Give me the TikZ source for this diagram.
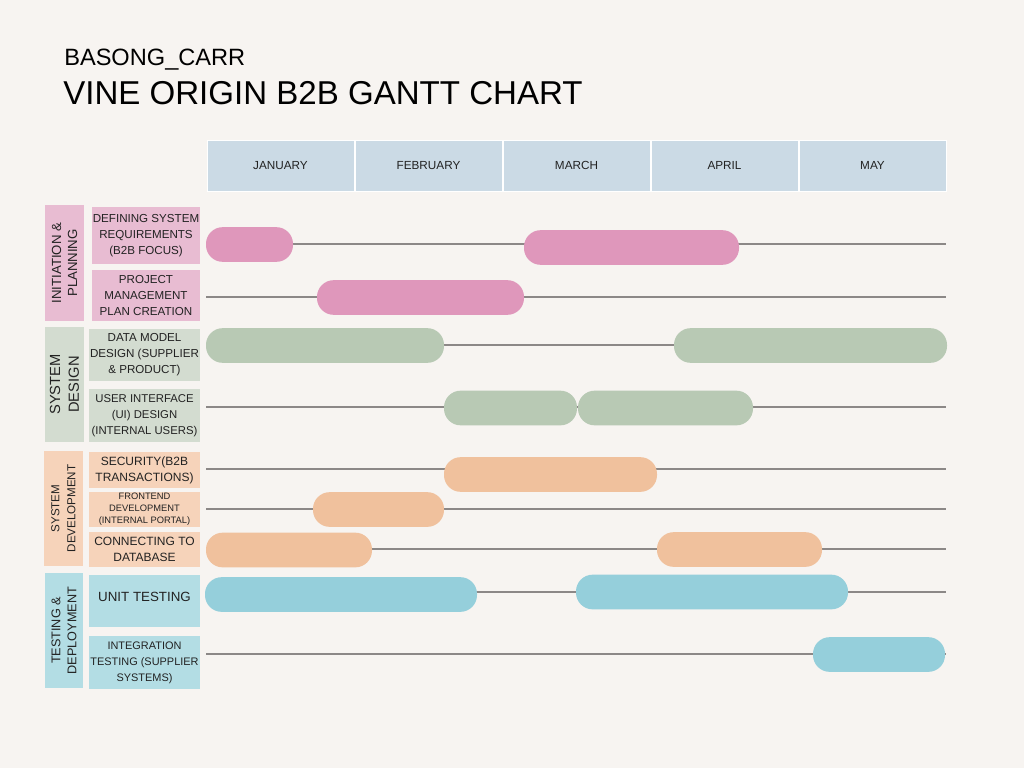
\documentclass[tikz,border=0pt]{standalone}
\usepackage{fontspec}
\setmainfont{Liberation Sans}
\definecolor{bg}{HTML}{F7F4F1}
\definecolor{hdr}{HTML}{CBDAE5}
\definecolor{pinkbar}{HTML}{DF97BB}
\definecolor{pinkbox}{HTML}{E8BCD2}
\definecolor{greenbar}{HTML}{B8C9B4}
\definecolor{greenbox}{HTML}{D3DCD0}
\definecolor{orangebar}{HTML}{F0C19D}
\definecolor{orangebox}{HTML}{F6D3BA}
\definecolor{bluebar}{HTML}{95CFDB}
\definecolor{bluebox}{HTML}{B3DDE4}
\definecolor{rowline}{HTML}{8C8887}
\definecolor{txt}{HTML}{222222}
\newcommand{\fsz}[2]{\fontsize{#1}{#2}\selectfont}
\tikzset{
  lbl/.style={text=txt, inner sep=0pt},
  monthcell/.style={lbl, fill=hdr, draw=white, line width=0.75pt, minimum width=110.25pt, minimum height=38.25pt, font=\fsz{8.8}{11}},
  catbox/.style={lbl, fill=#1, rotate=90, align=center, minimum height=29pt},
  taskbox/.style={lbl, fill=#1, align=center},
  ganttbar/.style={fill=#1, rounded corners=12.5pt, inner sep=0pt, minimum height=26pt},
  rowrule/.style={draw=rowline, line width=0.9pt},
}
\begin{document}
\begin{tikzpicture}[x=0.75pt,y=-0.75pt]
\useasboundingbox (0,0) rectangle (1024,768);
\fill[bg] (0,0) rectangle (1024,768);

% titles
\node[lbl, text=black, anchor=base west, font=\fsz{17.7}{20}] (sub) at (64,65) {BASONG\_CARR};
\node[lbl, text=black, anchor=base west, font=\fsz{24.8}{28}] (title) at (63,104) {VINE ORIGIN B2B GANTT CHART};

% month header
\node[monthcell] (jan) at (280.5,165.5) {JANUARY};
\node[monthcell] (feb) at (428.5,165.5) {FEBRUARY};
\node[monthcell] (mar) at (576.5,165.5) {MARCH};
\node[monthcell] (apr) at (724.5,165.5) {APRIL};
\node[monthcell] (may) at (872.5,165.5) {MAY};

% category boxes
\node[catbox=pinkbox, minimum width=87pt, font=\fsz{9.9}{12}] (cat1) at (64.5,263) {INITIATION \&\\PLANNING};
\node[catbox=greenbox, minimum width=86.25pt, font=\fsz{11}{14}] (cat2) at (64.5,384.5) {SYSTEM\\DESIGN};
\node[catbox=orangebox, minimum width=86.25pt, font=\fsz{8.7}{12}] (cat3) at (63.5,508.5) {SYSTEM\\DEVELOPMENT};
\node[catbox=bluebox, minimum width=86.25pt, font=\fsz{9.5}{12}] (cat4) at (64,630.5) {TESTING \&\\DEPLOYMENT};

% task boxes
\node[taskbox=pinkbox, minimum width=81pt, minimum height=42.75pt, font=\fsz{8.7}{12}] (t1) at (146,235.5) {DEFINING SYSTEM\\REQUIREMENTS\\(B2B FOCUS)};
\node[taskbox=pinkbox, minimum width=81pt, minimum height=38.25pt, font=\fsz{8.7}{12}] (t2) at (146,295.5) {PROJECT\\MANAGEMENT\\PLAN CREATION};
\node[taskbox=greenbox, minimum width=83.25pt, minimum height=39pt, font=\fsz{8.7}{12}] (t3) at (144.5,355) {DATA MODEL\\DESIGN (SUPPLIER\\\& PRODUCT)};
\node[taskbox=greenbox, minimum width=83.25pt, minimum height=39.75pt, font=\fsz{8.5}{12}] (t4) at (144.5,415.5) {USER INTERFACE\\(UI) DESIGN\\(INTERNAL USERS)};
\node[taskbox=orangebox, minimum width=83.25pt, minimum height=27pt, font=\fsz{9}{12}] (t5) at (144.5,470) {SECURITY(B2B\\TRANSACTIONS)};
\node[taskbox=orangebox, minimum width=83.25pt, minimum height=26.25pt, font=\fsz{7}{9}] (t6) at (144.5,509.5) {FRONTEND\\DEVELOPMENT\\(INTERNAL PORTAL)};
\node[taskbox=orangebox, minimum width=83.25pt, minimum height=26.25pt, font=\fsz{9}{12}] (t7) at (144.5,549.5) {CONNECTING TO\\DATABASE};
\node[taskbox=bluebox, minimum width=83.25pt, minimum height=39pt] (t8) at (144.5,601) {};
\node[lbl, font=\fsz{10}{12}] (t8txt) at (t8.center) [yshift=3pt] {UNIT TESTING};
\node[taskbox=bluebox, minimum width=83.25pt, minimum height=39.75pt, font=\fsz{8.2}{12}] (t9) at (144.5,662.5) {INTEGRATION\\TESTING (SUPPLIER\\SYSTEMS)};

% row rules
\foreach \i/\y in {1/244,2/297,3/345,4/407,5/469,6/509,7/549,8/592,9/654}{
  \coordinate (rs\i) at (206,\y);
  \coordinate (re\i) at (946,\y);
  \draw[rowrule] (rs\i) -- (re\i);
}

% bars
\node[ganttbar=pinkbar, minimum width=65.25pt] (b1a) at (249.5,244.5) {};
\node[ganttbar=pinkbar, minimum width=161.25pt] (b1b) at (631.5,247.5) {};
\node[ganttbar=pinkbar, minimum width=155.25pt] (b2) at (420.5,297.5) {};
\node[ganttbar=greenbar, minimum width=178.5pt] (b3a) at (325,345.5) {};
\node[ganttbar=greenbar, minimum width=204.75pt] (b3b) at (810.5,345.5) {};
\node[ganttbar=greenbar, minimum width=99.75pt] (b4a) at (510.5,408) {};
\node[ganttbar=greenbar, minimum width=131.25pt] (b4b) at (665.5,408) {};
\node[ganttbar=orangebar, minimum width=159.75pt] (b5) at (550.5,474.5) {};
\node[ganttbar=orangebar, minimum width=98.25pt] (b6) at (378.5,509.5) {};
\node[ganttbar=orangebar, minimum width=124.5pt] (b7a) at (289,550) {};
\node[ganttbar=orangebar, minimum width=123.75pt] (b7b) at (739.5,549.5) {};
\node[ganttbar=bluebar, minimum width=204pt] (b8a) at (341,594.5) {};
\node[ganttbar=bluebar, minimum width=204pt] (b8b) at (712,592) {};
\node[ganttbar=bluebar, minimum width=99pt] (b9) at (879,654.5) {};
\end{tikzpicture}
\end{document}
